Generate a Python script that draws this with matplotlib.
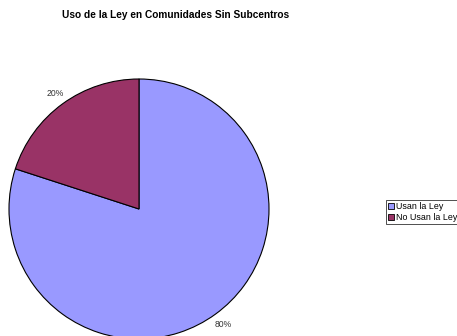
import matplotlib.pyplot as plt
from matplotlib.patches import Patch

plt.rcParams['font.family'] = ['Liberation Sans', 'DejaVu Sans']

# Data
labels = ['Usan la Ley', 'No Usan la Ley']
values = [80, 20]
colors = ['#9999FF', '#993366']

fig = plt.figure(figsize=(4.57, 3.36), dpi=100)

# Pie axes: 260 px square, centred at (139, 209) px from top-left
ax = fig.add_axes([9 / 457, -3 / 336, 260 / 457, 260 / 336])
wedges, texts = ax.pie(values, colors=colors, startangle=90, counterclock=False,
                       labels=[f'{v}%' for v in values], labeldistance=1.1,
                       wedgeprops=dict(edgecolor='black', linewidth=0.8),
                       textprops=dict(fontsize=6.2, color='#333333'))
for w in wedges:
    w.set_clip_on(False)
for t in texts:
    t.set_ha('center')
    t.set_va('center')
ax.set_xlim(-1, 1)
ax.set_ylim(-1, 1)
ax.set_aspect('auto')
ax.axis('off')

fig.text(176 / 457, 1 - 15 / 336, 'Uso de la Ley en Comunidades Sin Subcentros',
         ha='center', va='center', fontsize=7.3, fontweight='bold')

handles = [Patch(facecolor=c, edgecolor='black', linewidth=0.6) for c in colors]
leg = fig.legend(handles, labels, loc='upper left',
                 bbox_to_anchor=(386 / 457, 1 - 200 / 336),
                 fontsize=6.4, frameon=True, fancybox=False, borderpad=0.25,
                 handlelength=0.7, handleheight=0.7, handletextpad=0.2,
                 labelspacing=0.2, borderaxespad=0)
leg.get_frame().set_edgecolor('black')
leg.get_frame().set_linewidth(0.6)

fig.savefig('out.png', dpi=100)
